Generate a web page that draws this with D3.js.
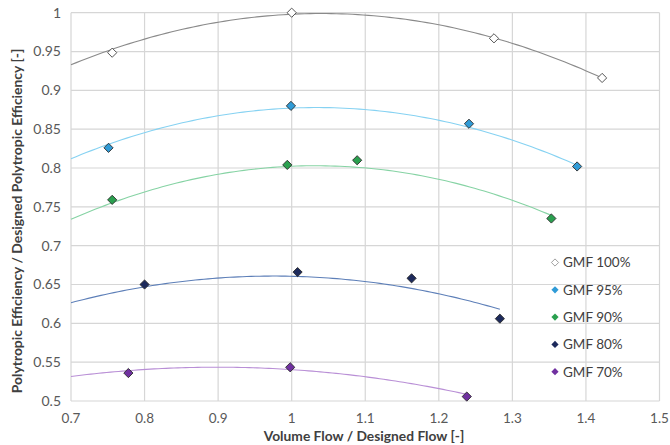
<!DOCTYPE html>
<html><head><meta charset="utf-8">
<script src="https://cdn.jsdelivr.net/npm/d3@7"></script>
<style>body{margin:0;background:#fff}svg{display:block}text{font-family:Lato,"Open Sans",sans-serif}</style>
</head><body><svg id="c" width="670" height="445"></svg>
<script>
const seriesNames = ["GMF 100%","GMF 95%","GMF 90%","GMF 80%","GMF 70%"];
// measured points
const gmf100 = [[0.756,0.9485],[1.0,1.0],[1.275,0.967],[1.422,0.916]];
const gmf95  = [[0.751,0.826],[0.999,0.880],[1.241,0.857],[1.388,0.802]];
const gmf90  = [[0.756,0.759],[0.994,0.804],[1.089,0.810],[1.353,0.735]];
const gmf80  = [[0.800,0.650],[1.008,0.666],[1.163,0.658],[1.283,0.606]];
const gmf70  = [[0.778,0.536],[0.998,0.5434],[1.238,0.5057]];
// trendline values
const trend100 = [[0.7,0.9335],[0.8,0.9655],[0.9,0.987],[1.0,0.9985],[1.1,0.9966],[1.2,0.986],[1.3,0.9593],[1.4,0.9253],[1.422,0.916]];
const trend95  = [[0.7,0.8166],[0.8,0.838],[0.9,0.8682],[1.0,0.8776],[1.1,0.8759],[1.2,0.864],[1.3,0.836],[1.388,0.802]];
const trend90  = [[0.7,0.735],[0.8,0.768],[0.9,0.7918],[1.0,0.8016],[1.1,0.8003],[1.2,0.7853],[1.3,0.763],[1.353,0.7354]];
const trend80  = [[0.7,0.6263],[0.8,0.648],[0.9,0.6572],[1.0,0.6607],[1.1,0.654],[1.2,0.6384],[1.283,0.6178]];
const trend70  = [[0.7,0.532],[0.8,0.540],[0.9,0.5434],[1.0,0.5405],[1.1,0.531],[1.2,0.518],[1.238,0.507]];
const xTicks = [0.7,0.8,0.9,1,1.1,1.2,1.3,1.4,1.5];
const yTicks = [0.5,0.55,0.6,0.65,0.7,0.75,0.8,0.85,0.9,0.95,1];
const fills = ["#ffffff","#2f9bd7","#2aa04f","#1d2a5c","#7030a0"];
const lineColors = ["#8a8a8a","#86d2f2","#86d3a4","#5d7fb8","#b98fd6"];
const data = [gmf100,gmf95,gmf90,gmf80,gmf70];
const trends = [trend100,trend95,trend90,trend80,trend70];

const svg = d3.select("#c");
const x = d3.scaleLinear().domain([0.7,1.5]).range([71,659.5]);
const y = d3.scaleLinear().domain([0.5,1]).range([401,12.7]);

// grid
const g = svg.append("g");
g.selectAll(".vx").data(xTicks).join("line")
  .attr("x1",d=>x(d)).attr("x2",d=>x(d)).attr("y1",y(1)).attr("y2",y(0.5))
  .attr("stroke","#d6d6d6").attr("stroke-width",1.2);
g.selectAll(".hy").data(yTicks).join("line")
  .attr("y1",d=>y(d)).attr("y2",d=>y(d)).attr("x1",x(0.7)).attr("x2",x(1.5))
  .attr("stroke","#d6d6d6").attr("stroke-width",1.2);

// tick labels
const fmt = d=>String(+d.toFixed(2));
svg.append("g").selectAll("text").data(yTicks).join("text")
  .attr("x",61).attr("y",d=>y(d)).attr("dy","0.35em").attr("text-anchor","end")
  .attr("font-size",14).attr("fill","#595959").text(fmt);
svg.append("g").selectAll("text").data(xTicks).join("text")
  .attr("x",d=>x(d)).attr("y",423).attr("text-anchor","middle")
  .attr("font-size",13.5).attr("fill","#595959").text(fmt);

svg.append("text").attr("x",364).attr("y",440.5).attr("text-anchor","middle")
  .attr("font-size",13.8).attr("font-weight","bold").attr("fill","#404040")
  .text("Volume Flow / Designed Flow [-]");
svg.append("text").attr("transform","translate(22,221) rotate(-90)").attr("text-anchor","middle")
  .attr("font-size",13.9).attr("font-weight","bold").attr("fill","#404040")
  .text("Polytropic Efficiency / Designed Polytropic Efficiency [-]");

// smooth the read trend values with a quadratic least-squares fit
function quadFit(pts){
  const S=[0,0,0,0,0],T=[0,0,0];
  pts.forEach(([a,b])=>{let p=1;for(let k=0;k<5;k++){S[k]+=p;if(k<3)T[k]+=p*b;p*=a;}});
  const M=[[S[0],S[1],S[2],T[0]],[S[1],S[2],S[3],T[1]],[S[2],S[3],S[4],T[2]]];
  for(let i=0;i<3;i++){for(let j=i+1;j<3;j++){const f=M[j][i]/M[i][i];for(let k=i;k<4;k++)M[j][k]-=f*M[i][k];}}
  const c=[0,0,0];
  for(let i=2;i>=0;i--){let s=M[i][3];for(let k=i+1;k<3;k++)s-=M[i][k]*c[k];c[i]=s/M[i][i];}
  return c;
}
const line = d3.line().x(d=>x(d[0])).y(d=>y(d[1]));
trends.forEach((tp,i)=>{
  const c = quadFit(tp);
  const [x0,x1] = d3.extent(tp,d=>d[0]);
  const xs = d3.range(0,101).map(k=>x0+(x1-x0)*k/100);
  svg.append("path").datum(xs.map(a=>[a,c[0]+c[1]*a+c[2]*a*a]))
    .attr("d",line).attr("fill","none").attr("stroke",lineColors[i]).attr("stroke-width",1.1);
});
const diamond = (s)=>`M0,${-s}L${s},0L0,${s}L${-s},0Z`;
data.forEach((pts,i)=>{
  svg.append("g").selectAll("path").data(pts).join("path")
    .attr("transform",d=>`translate(${x(d[0])},${y(d[1])})`)
    .attr("d",diamond(4.6)).attr("fill",fills[i])
    .attr("stroke",i===0?"#555":"#2a2a2a").attr("stroke-width",i===0?1:0.9);
});

// legend
const lg = svg.append("g");
seriesNames.forEach((nm,i)=>{
  const yy = 262.5 + i*27.3;
  lg.append("path").attr("transform",`translate(555,${yy})`).attr("d",diamond(3.6))
    .attr("fill",fills[i]).attr("stroke",i===0?"#888":"none").attr("stroke-width",0.8);
  lg.append("text").attr("x",563).attr("y",yy).attr("dy","0.36em")
    .attr("font-size",13.5).attr("fill","#404040").text(nm);
});
</script></body></html>
